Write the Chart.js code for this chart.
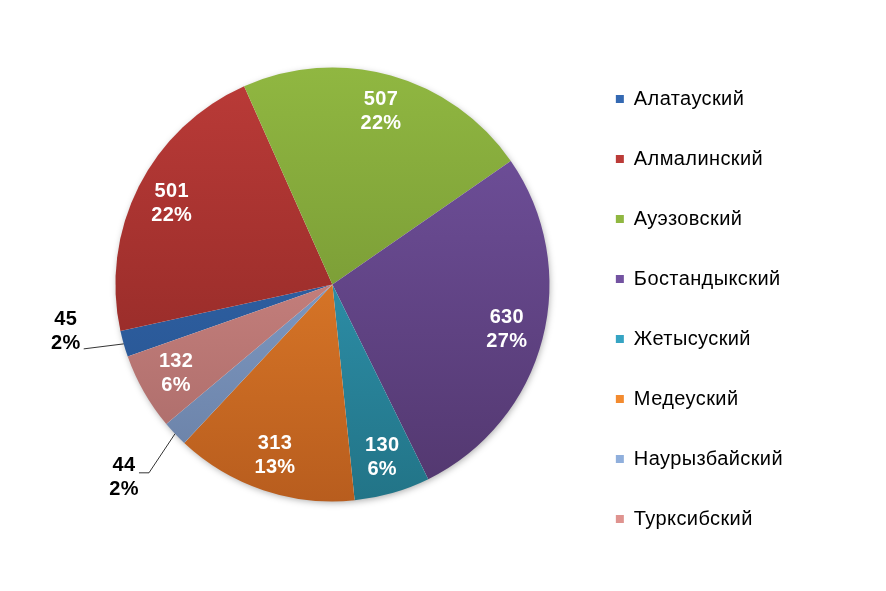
<!DOCTYPE html>
<html>
<head>
<meta charset="utf-8">
<script src="https://cdn.jsdelivr.net/npm/chart.js@4/dist/chart.umd.min.js"></script>
<style>
  body { margin: 0; background: #fff; }
  #wrap { width: 886px; height: 591px; }
</style>
</head>
<body>
<div id="wrap"><canvas id="pie_chart"></canvas></div>
<script>
// DATA
const districts = ['Алатауский', 'Алмалинский', 'Ауэзовский', 'Бостандыкский', 'Жетысуский', 'Медеуский', 'Наурызбайский', 'Турксибский'];
const counts = [45, 501, 507, 630, 130, 313, 44, 132];
const percent_labels = ['2%', '22%', '22%', '27%', '6%', '13%', '2%', '6%'];

// slice colours, top and bottom of the gradient
const top_colors = ['#3469b2', '#bb3b38', '#90b741', '#7353a1', '#36a4c3', '#f38b2f', '#90afdc', '#df938f'];
const bottom_colors = ['#26528c', '#872522', '#6a882e', '#52376e', '#227487', '#b85d1e', '#687ea3', '#a66866'];

const PIE_R = 217;

function sliceGradient(context){
	const chart = context.chart;
	const area = chart.chartArea;
	const i = context.dataIndex;
	if(!area) return top_colors[i];
	const cy = (area.top + area.bottom) / 2;
	const g = chart.ctx.createLinearGradient(0, cy - PIE_R, 0, cy + PIE_R);
	g.addColorStop(0, top_colors[i]);
	g.addColorStop(1, bottom_colors[i]);
	return g;
}

// slightly wider text, closer to the original rendering
const textSpacing = {
	id: 'textSpacing',
	beforeLayout(chart){ chart.ctx.letterSpacing = '0.4px'; },
	beforeDraw(chart){ chart.ctx.letterSpacing = '0.4px'; }
};

// soft shadow under the pie
const pieShadow = {
	id: 'pieShadow',
	beforeDatasetsDraw(chart){
		const arc = chart.getDatasetMeta(0).data[0];
		if(!arc) return;
		const ctx = chart.ctx;
		ctx.save();
		ctx.shadowColor = 'rgba(0,0,0,0.35)';
		ctx.shadowBlur = 7;
		ctx.shadowOffsetX = 1;
		ctx.shadowOffsetY = 2;
		ctx.fillStyle = '#fff';
		ctx.beginPath();
		ctx.arc(arc.x, arc.y, arc.outerRadius - 1, 0, Math.PI * 2);
		ctx.fill();
		ctx.restore();
	}
};

// value + percent labels
const outside = {
	0: { text: [-58, -12], line: [[-40, 5]] },
	6: { text: [-51, 44], line: [[-26, 39], [-36, 39]] }
};

const sliceLabels = {
	id: 'sliceLabels',
	afterDatasetsDraw(chart){
		const ctx = chart.ctx;
		const meta = chart.getDatasetMeta(0);
		ctx.save();
		ctx.letterSpacing = '0.3px';
		ctx.font = 'bold 20px "Liberation Sans", Arial, sans-serif';
		ctx.textAlign = 'center';
		ctx.textBaseline = 'middle';
		meta.data.forEach( (arc, i) => {
			const p = arc.getProps(['x', 'y', 'startAngle', 'endAngle', 'outerRadius'], true);
			const mid = (p.startAngle + p.endAngle) / 2;
			let tx, ty;
			if(outside[i]){
				const ex = p.x + Math.cos(mid) * p.outerRadius;
				const ey = p.y + Math.sin(mid) * p.outerRadius;
				ctx.strokeStyle = '#000';
				ctx.lineWidth = 0.8;
				ctx.beginPath();
				ctx.moveTo(ex, ey);
				outside[i].line.forEach( pt => ctx.lineTo(ex + pt[0], ey + pt[1]) );
				ctx.stroke();
				tx = ex + outside[i].text[0];
				ty = ey + outside[i].text[1];
				ctx.fillStyle = '#000';
			} else {
				tx = p.x + Math.cos(mid) * p.outerRadius * 0.83;
				ty = p.y + Math.sin(mid) * p.outerRadius * 0.83;
				ctx.fillStyle = '#fff';
			}
			ctx.fillText(String(counts[i]), tx, ty - 12);
			ctx.fillText(percent_labels[i], tx, ty + 12);
		});
		ctx.restore();
	}
};

const ctx = document.getElementById('pie_chart').getContext('2d');

const my_chart = new Chart(ctx, {
	type: 'pie',
	data: {
		labels: districts,
		datasets: [{
			data: counts,
			backgroundColor: sliceGradient,
			borderWidth: 0,
			radius: PIE_R
		}]
	},
	options: {
		responsive: true,
		maintainAspectRatio: false,
		animation: false,
		rotation: -109.4,
		layout: {
			padding: { left: 89, right: 93, top: 0, bottom: 22 }
		},
		plugins: {
			tooltip: { enabled: false },
			legend: {
				position: 'right',
				align: 'end',
				labels: {
					boxWidth: 8,
					boxHeight: 8,
					padding: 40,
					color: '#000',
					font: { family: '"Liberation Sans", Arial, sans-serif', size: 20 },
					generateLabels(chart){
						return districts.map( (name, i) => ({
							text: name,
							fillStyle: top_colors[i],
							strokeStyle: bottom_colors[i],
							lineWidth: 0,
							index: i,
							hidden: false
						}));
					}
				}
			}
		}
	},
	plugins: [textSpacing, pieShadow, sliceLabels]
});
</script>
</body>
</html>
